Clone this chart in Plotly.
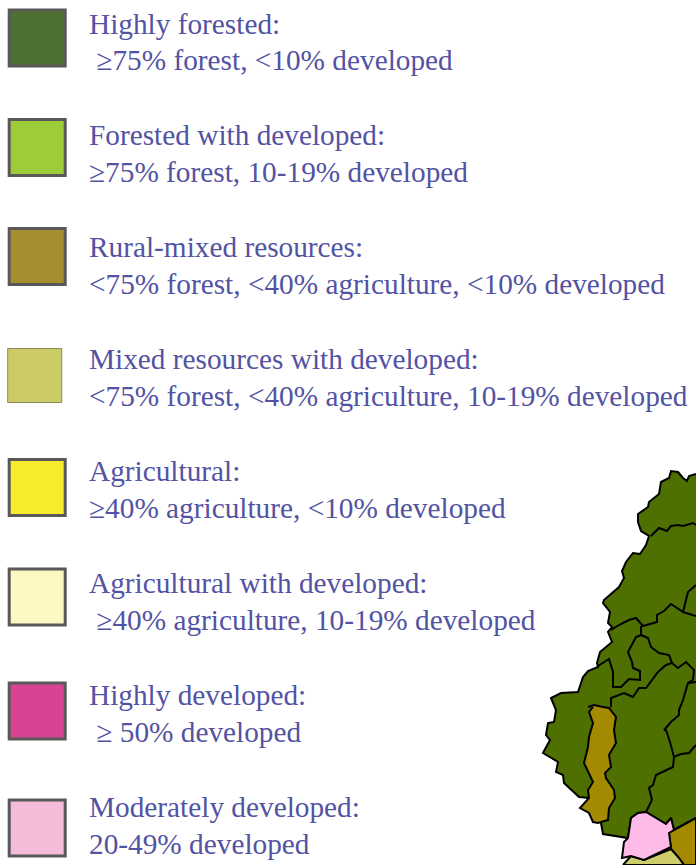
import plotly.graph_objects as go

categories = ["Highly forested", "Forested with developed", "Rural-mixed resources",
              "Mixed resources with developed", "Agricultural", "Agricultural with developed",
              "Highly developed", "Moderately developed"]
heading_lines = ["Highly forested:", "Forested with developed:", "Rural-mixed resources:",
                 "Mixed resources with developed:", "Agricultural:", "Agricultural with developed:",
                 "Highly developed:", "Moderately developed:"]
detail_lines = ["\u00a0≥75% forest, <10% developed", "≥75% forest, 10-19% developed",
                "<75% forest, <40% agriculture, <10% developed",
                "<75% forest, <40% agriculture, 10-19% developed",
                "≥40% agriculture, <10% developed", "\u00a0≥40% agriculture, 10-19% developed",
                "\u00a0≥ 50% developed", "20-49% developed"]
swatch_colors = ["#4f7033", "#9ecb3a", "#a48e2e", "#cccc66", "#f8eb2e", "#fdf7c2", "#d94394", "#f3bcd8"]
swatch_x = [37.2, 37.2, 37.2, 34.7, 37.2, 37.2, 37.2, 37.2]
swatch_y = [38, 147.5, 256.5, 375.5, 487.5, 597, 711, 828]
swatch_size = [56, 56, 56, 54, 56, 56, 56, 56]
swatch_line = [3, 3, 3, 1, 3, 3, 3, 3]
swatch_line_color = ["#595959", "#595959", "#595959", "#8a8a5a", "#595959", "#595959", "#595959", "#595959"]
heading_y = [27, 138, 250, 362, 474, 586, 698, 810]
detail_y = [63, 175, 287, 399, 511, 623, 735, 847]

forest_x = [696, 689, 687, 683, 678, 671, 669, 661, 659, 649, 648, 638, 638, 641, 649, 646, 640, 633,
            626, 622, 624, 619, 604, 603, 610, 608, 612, 608, 612, 600, 597, 598, 588, 583, 578, 561,
            551, 556, 554, 548, 546, 550, 543, 558, 556, 563, 564, 579, 589, 601, 603, 621, 628, 631,
            638, 646, 654, 666, 671, 674, 696]
forest_y = [474, 476, 481, 478, 472, 471, 478, 482, 494, 502, 507, 514, 522, 531, 536, 545, 554, 553,
            562, 571, 578, 587, 600, 603, 612, 623, 627, 632, 642, 652, 663, 667, 671, 677, 692, 693,
            698, 710, 722, 723, 735, 740, 753, 762, 772, 775, 783, 797, 798, 823, 834, 837, 838, 818,
            813, 812, 817, 824, 818, 830, 818]
rural_a_x = [588, 594, 603, 609, 616, 614, 616, 612, 609, 611, 605, 606, 614, 615, 609, 608, 598, 593,
             589, 580, 589, 588, 593, 584, 588, 589, 593, 589, 593]
rural_a_y = [707, 705, 707, 708, 717, 730, 743, 750, 755, 767, 773, 778, 790, 798, 808, 820, 823, 822,
             813, 808, 798, 790, 782, 763, 747, 737, 723, 712, 707]
rural_b_x = [674, 696, 696, 684, 679, 671, 669]
rural_b_y = [830, 818, 865, 865, 858, 849, 833]
mixed_x = [623, 631, 644, 671, 679, 684, 623]
mixed_y = [865, 856, 860, 849, 858, 865, 865]
moderate_x = [646, 638, 631, 628, 624, 622, 631, 644, 671, 669, 674, 671, 666, 654, 646]
moderate_y = [812, 813, 818, 838, 842, 858, 856, 860, 847, 833, 830, 818, 824, 817, 812]

boundary_x = [
    [651, 659, 667, 671, 678, 683, 693, 696], [696, 688, 686, 683, 696],
    [683, 671, 664, 657, 657, 643, 636, 629, 619, 611],
    [641, 641, 636, 628, 632, 633, 640, 640, 629, 621, 613, 613, 609, 598],
    [641, 648, 651, 659, 669, 672, 666, 658, 646, 639, 633, 624, 611, 611],
    [672, 678, 686, 694, 693, 688, 683, 679, 679, 671, 664, 666, 670, 674, 681, 689, 696],
    [688, 696], [674, 673, 656, 653, 649, 652, 646],
]
boundary_y = [
    [536, 528, 531, 526, 525, 526, 523, 525], [585, 592, 600, 612, 616],
    [612, 604, 611, 615, 622, 626, 618, 620, 625, 630],
    [626, 635, 637, 652, 662, 668, 671, 680, 679, 687, 687, 672, 659, 666],
    [635, 638, 647, 653, 655, 663, 665, 672, 688, 688, 697, 693, 698, 707],
    [663, 668, 662, 670, 680, 683, 700, 710, 715, 722, 730, 730, 742, 757, 754, 753, 745],
    [683, 682], [757, 767, 775, 785, 788, 800, 812],
]

fig = go.Figure()


def region(xs, ys, color):
    fig.add_trace(go.Scatter(x=xs, y=ys, mode="lines", fill="toself", fillcolor=color,
                             line=dict(color="black", width=2), hoverinfo="skip"))


region(forest_x, forest_y, "#4d7000")
region(rural_a_x, rural_a_y, "#a38a00")
region(rural_b_x, rural_b_y, "#a38a00")
region(mixed_x, mixed_y, "#cdcd6b")
region(moderate_x, moderate_y, "#ffbbe8")
for bx, by in zip(boundary_x, boundary_y):
    fig.add_trace(go.Scatter(x=bx, y=by, mode="lines", line=dict(color="black", width=2), hoverinfo="skip"))

fig.add_trace(go.Scatter(
    x=swatch_x, y=swatch_y, mode="markers", customdata=categories,
    marker=dict(symbol="square", size=swatch_size, color=swatch_colors, opacity=1,
                line=dict(color=swatch_line_color, width=swatch_line)),
    hoverinfo="skip"))
text_font = dict(family="Liberation Serif", size=29.3, color="#5353a3")
fig.add_trace(go.Scatter(x=[89] * len(heading_lines), y=heading_y, mode="text", text=heading_lines,
                         textposition="middle right", textfont=text_font, hoverinfo="skip"))
fig.add_trace(go.Scatter(x=[89] * len(detail_lines), y=detail_y, mode="text", text=detail_lines,
                         textposition="middle right", textfont=text_font, hoverinfo="skip"))

fig.update_layout(width=696, height=865, autosize=False, showlegend=False,
                  margin=dict(l=0, r=0, t=0, b=0), paper_bgcolor="white", plot_bgcolor="white",
                  xaxis=dict(range=[0, 696], visible=False, fixedrange=True),
                  yaxis=dict(range=[865, 0], visible=False, fixedrange=True))
fig.write_html("out.html", config={"displayModeBar": False},
               post_script="document.body.style.margin='0';document.body.style.overflow='hidden';")
